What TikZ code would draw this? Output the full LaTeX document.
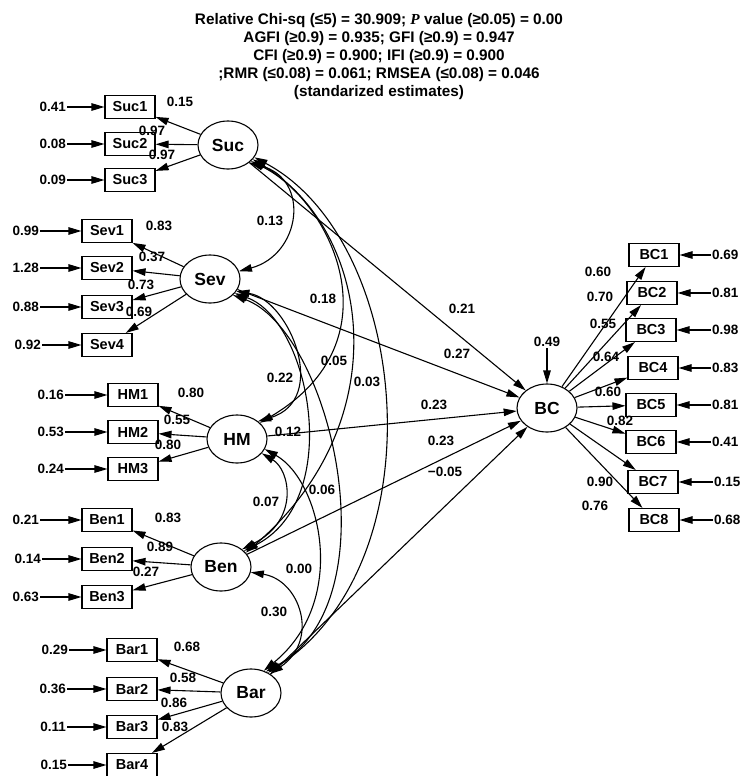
\documentclass[tikz,border=0pt]{standalone}
\usepackage{fontspec}
\setmainfont{Liberation Sans}
\newfontfamily\serifbf{Liberation Serif}
\usetikzlibrary{shapes.geometric,arrows.meta}

\tikzset{
  lat/.style={draw,ellipse,line width=1.1pt,minimum width=60pt,minimum height=48pt,inner sep=0pt,font=\fontsize{17.5}{18}\selectfont\bfseries},
  ind/.style={draw,rectangle,line width=1.1pt,minimum width=50pt,minimum height=23pt,inner sep=0pt,font=\fontsize{14.5}{15}\selectfont\bfseries},
  val/.style={inner sep=1pt,font=\fontsize{13.5}{14}\selectfont\bfseries},
  arr/.style={line width=1.1pt,-{Triangle[length=13pt,width=7.5pt]}},
  cov/.style={line width=1.1pt,{Triangle[length=13pt,width=7.5pt]}-{Triangle[length=13pt,width=7.5pt]}}
}

\begin{document}
\begin{tikzpicture}[x=1pt,y=-1pt]
\useasboundingbox (0,0) rectangle (740,776);
% fit indices
\node[align=center,font=\fontsize{15.3}{18}\selectfont\bfseries] (head) at (379,57)
  {Relative Chi-sq (≤5) = 30.909; {\serifbf\itshape P} value (≥0.05) = 0.00\\
   AGFI (≥0.9) = 0.935; GFI (≥0.9) = 0.947\\
   CFI (≥0.9) = 0.900; IFI (≥0.9) = 0.900\\
   ;RMR (≤0.08) = 0.061; RMSEA (≤0.08) = 0.046\\
   (standarized estimates)};

% latent variables
\node[lat] (Suc) at (228,145) {Suc};
\node[lat] (Sev) at (210,279) {Sev};
\node[lat] (HM) at (237,439) {HM};
\node[lat] (Ben) at (221,567) {Ben};
\node[lat] (Bar) at (251,693) {Bar};
\node[lat] (BC) at (547,408) {BC};

% Suc
\node[ind] (Suc1) at (130,107) {Suc1};
\node[ind] (Suc2) at (130,144) {Suc2};
\node[ind] (Suc3) at (130,180) {Suc3};
\node[val,anchor=east] (eSuc1) at (67,107) {0.41};
\node[val,anchor=east] (eSuc2) at (67,144) {0.08};
\node[val,anchor=east] (eSuc3) at (67,180) {0.09};
\draw[arr] (eSuc1) -- (Suc1);
\draw[arr] (eSuc2) -- (Suc2);
\draw[arr] (eSuc3) -- (Suc3);
\draw[arr] (Suc) -- (Suc1);
\draw[arr] (Suc) -- (Suc2);
\draw[arr] (Suc) -- (Suc3);
\node[val] (lSuc1) at (180,102) {0.15};
\node[val] (lSuc2) at (152,131) {0.97};
\node[val] (lSuc3) at (162,155) {0.97};

% Sev
\node[ind] (Sev1) at (107,231) {Sev1};
\node[ind] (Sev2) at (107,268) {Sev2};
\node[ind] (Sev3) at (107,307) {Sev3};
\node[ind] (Sev4) at (107,345) {Sev4};
\node[val,anchor=east] (eSev1) at (40,231) {0.99};
\node[val,anchor=east] (eSev2) at (40,268) {1.28};
\node[val,anchor=east] (eSev3) at (40,307) {0.88};
\node[val,anchor=east] (eSev4) at (42,345) {0.92};
\draw[arr] (eSev1) -- (Sev1);
\draw[arr] (eSev2) -- (Sev2);
\draw[arr] (eSev3) -- (Sev3);
\draw[arr] (eSev4) -- (Sev4);
\draw[arr] (Sev) -- (Sev1);
\draw[arr] (Sev) -- (Sev2);
\draw[arr] (Sev) -- (Sev3);
\draw[arr] (Sev) -- (Sev4);
\node[val] (lSev1) at (159,226) {0.83};
\node[val] (lSev2) at (152,257) {0.37};
\node[val] (lSev3) at (141,285) {0.73};
\node[val] (lSev4) at (139,312) {0.69};

% HM
\node[ind] (HM1) at (133,395) {HM1};
\node[ind] (HM2) at (133,432) {HM2};
\node[ind] (HM3) at (133,469) {HM3};
\node[val,anchor=east] (eHM1) at (65,395) {0.16};
\node[val,anchor=east] (eHM2) at (65,432) {0.53};
\node[val,anchor=east] (eHM3) at (65,469) {0.24};
\draw[arr] (eHM1) -- (HM1);
\draw[arr] (eHM2) -- (HM2);
\draw[arr] (eHM3) -- (HM3);
\draw[arr] (HM) -- (HM1);
\draw[arr] (HM) -- (HM2);
\draw[arr] (HM) -- (HM3);
\node[val] (lHM1) at (191,393) {0.80};
\node[val] (lHM2) at (177,420) {0.55};
\node[val] (lHM3) at (168,445) {0.80};

% Ben
\node[ind] (Ben1) at (107,520) {Ben1};
\node[ind] (Ben2) at (107,559) {Ben2};
\node[ind] (Ben3) at (107,597) {Ben3};
\node[val,anchor=east] (eBen1) at (40,520) {0.21};
\node[val,anchor=east] (eBen2) at (42,559) {0.14};
\node[val,anchor=east] (eBen3) at (40,597) {0.63};
\draw[arr] (eBen1) -- (Ben1);
\draw[arr] (eBen2) -- (Ben2);
\draw[arr] (eBen3) -- (Ben3);
\draw[arr] (Ben) -- (Ben1);
\draw[arr] (Ben) -- (Ben2);
\draw[arr] (Ben) -- (Ben3);
\node[val] (lBen1) at (168,518) {0.83};
\node[val] (lBen2) at (160,547) {0.89};
\node[val] (lBen3) at (146,572) {0.27};

% Bar
\node[ind] (Bar1) at (132,650) {Bar1};
\node[ind] (Bar2) at (132,689) {Bar2};
\node[ind] (Bar3) at (132,727) {Bar3};
\node[ind] (Bar4) at (132,765) {Bar4};
\node[val,anchor=east] (eBar1) at (69,650) {0.29};
\node[val,anchor=east] (eBar2) at (67,689) {0.36};
\node[val,anchor=east] (eBar3) at (67,727) {0.11};
\node[val,anchor=east] (eBar4) at (68,765) {0.15};
\draw[arr] (eBar1) -- (Bar1);
\draw[arr] (eBar2) -- (Bar2);
\draw[arr] (eBar3) -- (Bar3);
\draw[arr] (eBar4) -- (Bar4);
\draw[arr] (Bar) -- (Bar1);
\draw[arr] (Bar) -- (Bar2);
\draw[arr] (Bar) -- (Bar3);
\draw[arr] (Bar) -- (Bar4);
\node[val] (lBar1) at (187,647) {0.68};
\node[val] (lBar2) at (183,678) {0.58};
\node[val] (lBar3) at (174,703) {0.86};
\node[val] (lBar4) at (175,727) {0.83};

% BC
\node[ind] (BC1) at (654,255) {BC1};
\node[ind] (BC2) at (652,293) {BC2};
\node[ind] (BC3) at (651,330) {BC3};
\node[ind] (BC4) at (653,368) {BC4};
\node[ind] (BC5) at (651,405) {BC5};
\node[ind] (BC6) at (651,442) {BC6};
\node[ind] (BC7) at (653,482) {BC7};
\node[ind] (BC8) at (654,520) {BC8};
\node[val,anchor=west] (eBC1) at (711,255) {0.69};
\node[val,anchor=west] (eBC2) at (711,293) {0.81};
\node[val,anchor=west] (eBC3) at (711,330) {0.98};
\node[val,anchor=west] (eBC4) at (711,368) {0.83};
\node[val,anchor=west] (eBC5) at (711,405) {0.81};
\node[val,anchor=west] (eBC6) at (711,442) {0.41};
\node[val,anchor=west] (eBC7) at (713,482) {0.15};
\node[val,anchor=west] (eBC8) at (713,520) {0.68};
\draw[arr] (eBC1) -- (BC1);
\draw[arr] (eBC2) -- (BC2);
\draw[arr] (eBC3) -- (BC3);
\draw[arr] (eBC4) -- (BC4);
\draw[arr] (eBC5) -- (BC5);
\draw[arr] (eBC6) -- (BC6);
\draw[arr] (eBC7) -- (BC7);
\draw[arr] (eBC8) -- (BC8);
\draw[arr] (BC) -- (BC1);
\draw[arr] (BC) -- (BC2);
\draw[arr] (BC) -- (BC3);
\draw[arr] (BC) -- (BC4);
\draw[arr] (BC) -- (BC5);
\draw[arr] (BC) -- (BC6);
\draw[arr] (BC) -- (BC7);
\draw[arr] (BC) -- (BC8);
\node[val] (lBC1) at (598,272) {0.60};
\node[val] (lBC2) at (600,297) {0.70};
\node[val] (lBC3) at (603,324) {0.55};
\node[val] (lBC4) at (606,357) {0.64};
\node[val] (lBC5) at (608,392) {0.60};
\node[val] (lBC6) at (620,421) {0.82};
\node[val] (lBC7) at (600,482) {0.90};
\node[val] (lBC8) at (595,506) {0.76};
\node[val] (rBC) at (547,342) {0.49};
\draw[arr] (rBC) -- (BC);

% structural paths
\draw[arr] (Suc) -- (BC);
\draw[arr] (Sev) -- (BC);
\draw[arr] (HM) -- (BC);
\draw[arr] (Ben) -- (BC);
\draw[arr] (Bar) -- (BC);
\node[val] (pSuc) at (462,309) {0.21};
\node[val] (pSev) at (457,354) {0.27};
\node[val] (pHM) at (434,405) {0.23};
\node[val] (pBen) at (441,441) {0.23};
\node[val] (pBar) at (445,472) {−0.05};

% covariances
\draw[cov] (Suc.-40) to[out=-15,in=15,looseness=1.5] (Sev.15);
\draw[cov] (Suc.-35) .. controls (330,200) and (400,340) .. (HM.35);
\draw[cov] (Suc.-30) .. controls (370,230) and (400,420) .. (Ben.30);
\draw[cov] (Suc.-25) .. controls (410,240) and (440,560) .. (Bar.50);
\draw[cov] (Sev.-25) .. controls (290,300) and (330,400) .. (HM.40);
\draw[cov] (Sev.-30) .. controls (310,320) and (345,500) .. (Ben.35);
\draw[cov] (Sev.-35) .. controls (330,330) and (395,600) .. (Bar.55);
\draw[cov] (HM.-30) .. controls (290,470) and (300,520) .. (Ben.40);
\draw[cov] (HM.-20) .. controls (320,480) and (350,600) .. (Bar.60);
\draw[cov] (Ben.-10) .. controls (300,580) and (320,640) .. (Bar.45);
\node[val] (cSucSev) at (270,221) {0.13};
\node[val] (cSevBar) at (323,299) {0.18};
\node[val] (cSucHM) at (334,361) {0.05};
\node[val] (cSucBen) at (367,382) {0.03};
\node[val] (cSevHM) at (280,378) {0.22};
\node[val] (cHMBar) at (288,432) {0.12};
\node[val] (cHMBen) at (266,502) {0.07};
\node[val] (cSevBen) at (322,490) {0.06};
\node[val] (cSucBar) at (299,569) {0.00};
\node[val] (cBenBar) at (274,612) {0.30};
\end{tikzpicture}
\end{document}
